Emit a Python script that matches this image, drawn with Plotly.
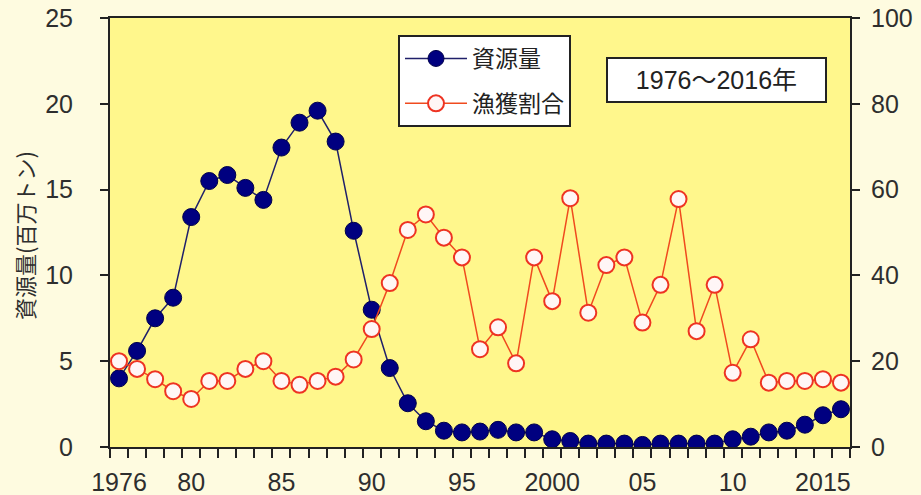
import plotly.graph_objects as go

years = list(range(1976, 2017))
biomass = [4.0, 5.6, 7.5, 8.7, 13.4, 15.5, 15.85, 15.1, 14.4, 17.45, 18.9, 19.6, 17.8, 12.6,
           8.0, 4.6, 2.55, 1.5, 0.95, 0.85, 0.9, 1.0, 0.85, 0.85, 0.45, 0.35, 0.2, 0.2, 0.2, 0.12,
           0.2, 0.2, 0.2, 0.2, 0.45, 0.6, 0.85, 0.95, 1.3, 1.85, 2.2]
catch_ratio = [20.0, 18.2, 15.8, 13.0, 11.2, 15.4, 15.4, 18.2, 20.0, 15.4, 14.5, 15.4, 16.4, 20.4,
               27.5, 38.2, 50.6, 54.2, 48.8, 44.2, 22.8, 27.9, 19.5, 44.2, 34.0, 58.0, 31.3, 42.4,
               44.2, 29.0, 37.8, 57.8, 27.0, 37.8, 17.3, 25.1, 15.0, 15.4, 15.4, 15.8, 15.0]
xtick_vals = [1976, 1980, 1985, 1990, 1995, 2000, 2005, 2010, 2015]
xtick_text = ["1976", "80", "85", "90", "95", "2000", "05", "10", "2015"]
name_biomass = "資源量"
name_ratio = "漁獲割合"
ytitle = "資源量(百万トン)"
period_text = "   1976～2016年   "

FONT = "Liberation Sans, Noto Sans CJK JP, sans-serif"
JPFONT = "Noto Sans CJK JP, sans-serif"
TICKCOL = "#2e2e2e"

# plot area in page pixels (body margin removed below)
L, R, T, B = 110, 850, 18, 447
W, H = 921, 495

fig = go.Figure()
fig.add_trace(go.Scatter(
    x=years, y=biomass, name=name_biomass, mode="lines+markers",
    line=dict(color="#20206a", width=1.5),
    marker=dict(size=17, color="#000080", line=dict(color="#00004a", width=1)),
    legendgroup="a", yaxis="y"))
fig.add_trace(go.Scatter(
    x=years, y=catch_ratio, name=name_ratio, mode="lines+markers",
    line=dict(color="#f04a1e", width=1.5),
    marker=dict(size=16, color="#fff6f6", line=dict(color="#ee3322", width=2)),
    legendgroup="b", yaxis="y2"))

fig.update_layout(
    width=W, height=H,
    margin=dict(l=L, r=W - R, t=T, b=H - B, autoexpand=False),
    paper_bgcolor="#fefbe0",
    plot_bgcolor="#fff78c",
    font=dict(family=FONT, size=25, color=TICKCOL),
    showlegend=True,
    legend=dict(
        x=(398 - L) / (R - L), y=1 - (35 - T) / (B - T), xanchor="left", yanchor="top",
        bgcolor="white", bordercolor="#222222", borderwidth=2,
        font=dict(family=JPFONT, size=23, color="#222222"),
        traceorder="grouped", tracegroupgap=12,
        itemwidth=62,
    ),
    xaxis=dict(
        range=[1975.5, 2016.5], tickvals=xtick_vals, ticktext=xtick_text,
        ticks="", showgrid=False, zeroline=False, automargin=False,
        showline=True, linecolor="#222222", linewidth=2, mirror=True,
        minor=dict(tick0=1975.5, dtick=1, ticks="outside", ticklen=9,
                   tickwidth=1.5, tickcolor="#222222", showgrid=False),
        tickfont=dict(size=25, color=TICKCOL),
        ticklabelstandoff=12,
    ),
    yaxis=dict(
        range=[0, 25], dtick=5, ticks="outside", ticklen=8, tickwidth=1.5,
        tickcolor="#222222", showgrid=False, zeroline=False, automargin=False,
        showline=True, linecolor="#222222", linewidth=2,
        tickfont=dict(size=25, color=TICKCOL),
        ticklabelstandoff=22, ticklabeloverflow="allow",
    ),
    yaxis2=dict(
        range=[0, 100], dtick=20, overlaying="y", side="right",
        ticks="outside", ticklen=8, tickwidth=1.5, tickcolor="#222222",
        showgrid=False, zeroline=False, automargin=False,
        showline=True, linecolor="#222222", linewidth=2,
        tickfont=dict(size=25, color=TICKCOL),
        ticklabelstandoff=6, ticklabeloverflow="allow",
    ),
    annotations=[
        dict(
            text=period_text, xref="paper", yref="paper",
            x=(716 - L) / (R - L), y=1 - (80 - T) / (B - T),
            xanchor="center", yanchor="middle", showarrow=False,
            font=dict(family=FONT, size=25, color="#222222"),
            bgcolor="white", bordercolor="#222222", borderwidth=2,
            borderpad=7,
        ),
        dict(
            text=ytitle, xref="paper", yref="paper",
            x=(24 - L) / (R - L), y=1 - (236 - T) / (B - T),
            xanchor="center", yanchor="middle", showarrow=False, textangle=-90,
            font=dict(family=JPFONT, size=22, color=TICKCOL),
        ),
    ],
)

fig.write_html("out.html", config={"displayModeBar": False},
               post_script="document.body.style.margin='0';")
